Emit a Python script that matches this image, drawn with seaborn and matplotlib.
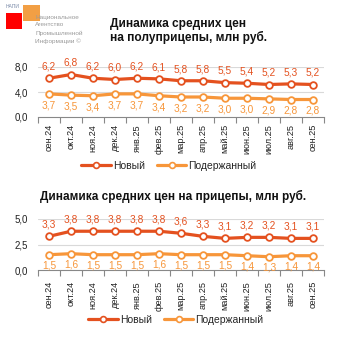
import matplotlib
matplotlib.use("Agg")
import matplotlib.pyplot as plt
import seaborn as sns
import pandas as pd
from matplotlib.patches import Rectangle
from matplotlib.lines import Line2D

months = ["сен.24", "окт.24", "ноя.24", "дек.24", "янв.25", "фев.25", "мар.25",
          "апр.25", "май.25", "июн.25", "июл.25", "авг.25", "сен.25"]
semi_new = [6.2, 6.8, 6.2, 6.0, 6.2, 6.1, 5.8, 5.8, 5.5, 5.4, 5.2, 5.3, 5.2]
semi_used = [3.7, 3.5, 3.4, 3.7, 3.7, 3.4, 3.2, 3.2, 3.0, 3.0, 2.9, 2.8, 2.8]
trl_new = [3.3, 3.8, 3.8, 3.8, 3.8, 3.8, 3.6, 3.3, 3.1, 3.2, 3.2, 3.1, 3.1]
trl_used = [1.5, 1.6, 1.5, 1.5, 1.5, 1.6, 1.5, 1.5, 1.5, 1.4, 1.3, 1.4, 1.4]
series_names = ["Новый", "Подержанный"]
title1 = "Динамика средних цен\nна полуприцепы, млн руб."
title2 = "Динамика средних цен на прицепы, млн руб."

C_NEW = "#E4511F"
C_USED = "#F7963A"

sns.set_theme(style="white")
plt.rcParams["font.family"] = ["Liberation Sans", "DejaVu Sans"]

W = H = 338
fig = plt.figure(figsize=(3.38, 3.38), dpi=100)


def fx(px):
    return px / W


def fy(py):
    return 1 - py / H


def draw(ax, new, used, ymax, yticks, ylabels, xpad):
    idx = list(range(len(months)))
    df = pd.DataFrame({"x": idx * 2, "y": new + used,
                       "s": [series_names[0]] * len(idx) + [series_names[1]] * len(idx)})
    sns.lineplot(data=df, x="x", y="y", hue="s", palette=[C_NEW, C_USED], ax=ax,
                 linewidth=2.3, marker="o", markersize=4.8, markerfacecolor="white",
                 markeredgewidth=1.3, legend=False, sort=False)
    for ln, c in zip(ax.get_lines(), [C_NEW, C_USED]):
        ln.set_markeredgecolor(c)
    for i in idx:
        ax.annotate(f"{new[i]:.1f}".replace(".", ","), (i, new[i]), xytext=(0, 4.8),
                    textcoords="offset points", ha="center", va="bottom",
                    color=C_NEW, fontsize=7.3)
        ax.annotate(f"{used[i]:.1f}".replace(".", ","), (i, used[i]), xytext=(0, -4.5),
                    textcoords="offset points", ha="center", va="top",
                    color=C_USED, fontsize=7.3)
    ax.set_xlim(-0.5, len(months) - 0.5)
    ax.set_ylim(0, ymax)
    ax.set_yticks(yticks)
    ax.set_yticklabels(ylabels, fontsize=7, color="#222222")
    ax.set_xticks(idx)
    ax.set_xticklabels(months, rotation=90, fontsize=6.6, color="#222222")
    ax.set_xticks([i - 0.5 for i in range(len(months) + 1)], minor=True)
    ax.tick_params(axis="x", which="major", length=0, pad=xpad)
    ax.tick_params(axis="x", which="minor", length=4, width=0.8, color="#888888", bottom=True)
    ax.tick_params(axis="y", length=0, pad=7)
    for y in yticks[1:]:
        ax.axhline(y, color="#d9d9d9", linewidth=0.8, zorder=0)
    for s in ["top", "right", "left"]:
        ax.spines[s].set_visible(False)
    ax.spines["bottom"].set_color("#888888")
    ax.spines["bottom"].set_linewidth(0.8)
    ax.set_xlabel("")
    ax.set_ylabel("")
    ax.patch.set_alpha(0)


def legend(xpx, ypx):
    handles = [Line2D([0], [0], color=c, lw=2.3, marker="o", markersize=4.2,
                      markerfacecolor="white", markeredgecolor=c, markeredgewidth=1.2)
               for c in [C_NEW, C_USED]]
    fig.legend(handles, series_names, loc="center", bbox_to_anchor=(fx(xpx), fy(ypx)),
               ncol=2, frameon=False, fontsize=7.5, handlelength=2.8,
               handletextpad=0.2, columnspacing=1.2)


ax1 = fig.add_axes([fx(38), fy(117), fx(286), 50 / H])
draw(ax1, semi_new, semi_used, 8, [0, 4, 8], ["0,0", "4,0", "8,0"], 5)
legend(169, 166)

ax2 = fig.add_axes([fx(38), fy(270), fx(286), 51 / H])
draw(ax2, trl_new, trl_used, 5, [0, 2.5, 5], ["0,0", "2,5", "5,0"], 8)
legend(176, 320)

fig.text(fx(110), fy(31), title1, fontsize=8.6, fontweight="bold", ha="left",
         va="center", linespacing=1.1, color="#111111")
fig.text(fx(173), fy(196), title2, fontsize=8.5, fontweight="bold", ha="center",
         va="center", color="#111111")

# logo
fig.patches.append(Rectangle((fx(6), fy(29)), 16 / W, 16 / H, transform=fig.transFigure,
                             facecolor="#FF0000", edgecolor="none"))
fig.patches.append(Rectangle((fx(23), fy(21)), 17 / W, 16 / H, transform=fig.transFigure,
                             facecolor="#F29A3A", edgecolor="none", alpha=0.95))
fig.text(fx(6), fy(7), "НАПИ", fontsize=3.6, color="#7a8aa8", ha="left", va="center")
logo_lines = ["Национальное", "Агентство", "Промышленной", "Информации ©"]
for k, t in enumerate(logo_lines):
    fig.text(fx(35), fy(17 + 8 * k), t, fontsize=4.6, color="#9a9a9a",
             ha="left", va="center")

fig.savefig("out.png", dpi=100)
